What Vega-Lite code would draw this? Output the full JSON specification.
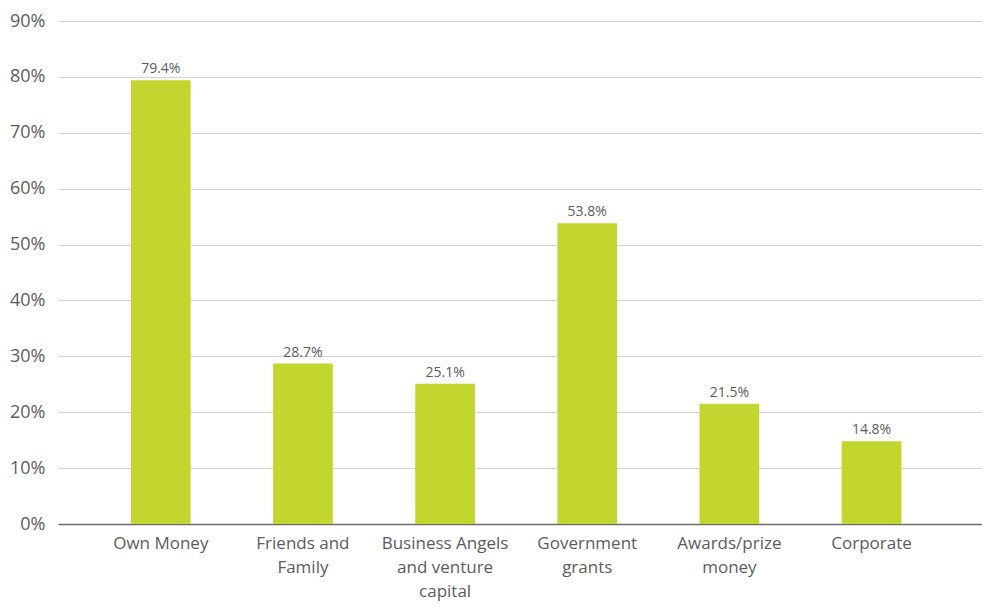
{
  "$schema": "https://vega.github.io/schema/vega-lite/v6.json",
  "width": 924,
  "height": 503,
  "autosize": {"type": "none"},
  "padding": {"left": 58, "top": 21, "right": 0, "bottom": 85},
  "background": "white",
  "config": {
    "view": {"stroke": null},
    "font": "Open Sans"
  },
  "data": {
    "values": [
      {"source": "Own Money", "share": 0.794},
      {"source": "Friends and Family", "share": 0.287},
      {"source": "Business Angels and venture capital", "share": 0.251},
      {"source": "Government grants", "share": 0.538},
      {"source": "Awards/prize money", "share": 0.215},
      {"source": "Corporate", "share": 0.148}
    ]
  },
  "encoding": {
    "x": {
      "field": "source",
      "type": "nominal",
      "sort": null,
      "scale": {"paddingInner": 0.58, "paddingOuter": 0.54, "align": 0.475},
      "axis": {
        "title": null,
        "labelAngle": 0,
        "labelFontSize": 17,
        "labelFontWeight": 400,
        "labelColor": "#5c5c5c",
        "labelPadding": 11,
        "labelLineHeight": 24,
        "labelBaseline": "top",
        "ticks": false,
        "domainColor": "#6b6b6b",
        "domainWidth": 1.5,
        "labelExpr": "{'Friends and Family': ['Friends and', 'Family'], 'Business Angels and venture capital': ['Business Angels', 'and venture', 'capital'], 'Government grants': ['Government', 'grants'], 'Awards/prize money': ['Awards/prize', 'money']}[datum.value] || datum.value"
      }
    },
    "y": {
      "field": "share",
      "type": "quantitative",
      "scale": {"domain": [0, 0.9], "nice": false},
      "axis": {
        "title": null,
        "format": "%",
        "values": [0, 0.1, 0.2, 0.3, 0.4, 0.5, 0.6, 0.7, 0.8, 0.9],
        "labelFontSize": 18,
        "labelFontWeight": 400,
        "labelColor": "#5c5c5c",
        "labelPadding": 13,
        "ticks": false,
        "domain": false,
        "gridColor": "#d4d4d4",
        "gridWidth": 1
      }
    }
  },
  "layer": [
    {"mark": {"type": "bar", "color": "#c2d62f"}},
    {
      "mark": {"type": "text", "dy": -11, "fontSize": 14, "fontWeight": 400, "color": "#5c5c5c"},
      "encoding": {"text": {"field": "share", "type": "quantitative", "format": ".1%"}}
    }
  ]
}
